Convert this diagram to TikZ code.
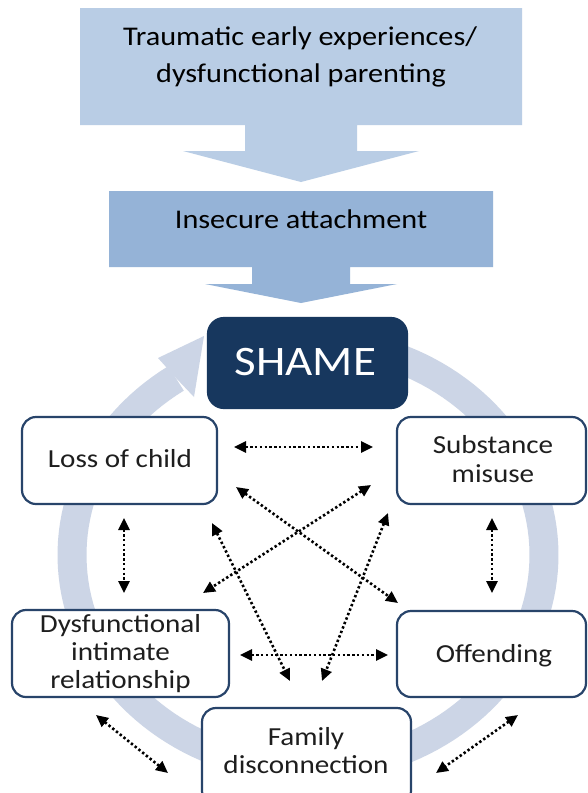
\documentclass[tikz,border=0pt]{standalone}
\usepackage{fontspec}
\setmainfont{Carlito}[FakeStretch=1.12]
\usetikzlibrary{arrows.meta}
\definecolor{topfill}{RGB}{185,205,229}
\definecolor{midfill}{RGB}{149,179,215}
\definecolor{ringcol}{RGB}{204,213,230}
\definecolor{navy}{RGB}{23,55,94}
\definecolor{boxline}{RGB}{40,68,106}
\definecolor{txt}{RGB}{30,30,30}
\begin{document}
\begin{tikzpicture}[x=1pt,y=-1pt,
  box/.style={draw=boxline, line width=2.2pt, fill=white, rounded corners=14pt, inner sep=0pt},
  boxtext/.style={anchor=base, inner sep=0pt, text=txt, font=\fontsize{26}{28.5}\selectfont},
  toptext/.style={anchor=base, inner sep=0pt, text=black, font=\fontsize{27}{37}\selectfont},
  link/.style={line width=2.6pt, dash pattern=on 2.4pt off 2.4pt,
    {Triangle[length=12pt,width=11pt]}-{Triangle[length=12pt,width=11pt]}},
]
\clip (0,0) rectangle (588,793);
\fill[white] (0,0) rectangle (588,793);

% background circular arrow
\draw[ringcol, line width=29pt, line join=round]
  plot[domain=-80:236, samples=140, variable=\t] ({308+236*cos(\t)},{555+213*sin(\t)});
\fill[ringcol] (158,358) -- (204,336) -- (194,397) -- (176,378) -- cycle;

% top block arrows
\fill[topfill] (80,8) -- (522,8) -- (522,125) -- (357,125) -- (357,151) -- (419,151)
  -- (301,182) -- (183,151) -- (245,151) -- (245,125) -- (80,125) -- cycle;
\fill[midfill] (109,191) -- (493,191) -- (493,267) -- (350,267) -- (350,284) -- (397,284)
  -- (301,303) -- (205,284) -- (252,284) -- (252,267) -- (109,267) -- cycle;
\node[toptext] (trauma1) at (300,45) {Traumatic early experiences/};
\node[toptext] (trauma2) at (301,82) {dysfunctional parenting};
\node[toptext] (insecure) at (301,228) {Insecure attachment};

% SHAME
\node[box, fill=navy, draw=navy, rounded corners=16pt, minimum width=199pt, minimum height=90pt] (shame) at (307.5,363) {};
\node[anchor=base, inner sep=0pt, text=white, font=\fontsize{42}{42}\selectfont] (shametext) at (305.5,375) {SHAME};

% boxes
\node[box, minimum width=195pt, minimum height=87pt] (loss) at (119.5,460.5) {};
\node[box, minimum width=189pt, minimum height=87pt] (subst) at (491.5,460.5) {};
\node[box, minimum width=217pt, minimum height=87pt] (dysf) at (120.5,653.5) {};
\node[box, minimum width=189pt, minimum height=86pt] (offend) at (491.5,654) {};
\node[box, minimum width=209pt, minimum height=97pt] (family) at (306.5,756.5) {};

\node[boxtext] (losst) at (120,467) {Loss of child};
\node[boxtext] (subst1) at (493,453) {Substance};
\node[boxtext] (subst2) at (493,482) {misuse};
\node[boxtext] (dysf1) at (120.5,632) {Dysfunctional};
\node[boxtext] (dysf2) at (120.5,660) {intimate};
\node[boxtext] (dysf3) at (120.5,688) {relationship};
\node[boxtext] (offendt) at (494,662) {Offending};
\node[boxtext] (family1) at (306,745) {Family};
\node[boxtext] (family2) at (306,773) {disconnection};

% connector ends
\coordinate (c1a) at (234,447);  \coordinate (c1b) at (373,447);
\coordinate (c2a) at (236,487);  \coordinate (c2b) at (398,603);
\coordinate (c3a) at (371,485);  \coordinate (c3b) at (203,593);
\coordinate (c4a) at (212,523);  \coordinate (c4b) at (290,681);
\coordinate (c5a) at (388,513);  \coordinate (c5b) at (322,681);
\coordinate (c6a) at (240,655);  \coordinate (c6b) at (388,655);
\coordinate (c7a) at (124,518);  \coordinate (c7b) at (124,593);
\coordinate (c8a) at (492,518);  \coordinate (c8b) at (492,593);
\coordinate (c9a) at (96,715);   \coordinate (c9b) at (168,773);
\coordinate (c10a) at (518,715); \coordinate (c10b) at (436,773);

\draw[link] (c1a) -- (c1b);
\draw[link] (c2a) -- (c2b);
\draw[link] (c3a) -- (c3b);
\draw[link] (c4a) -- (c4b);
\draw[link] (c5a) -- (c5b);
\draw[link] (c6a) -- (c6b);
\draw[link] (c7a) -- (c7b);
\draw[link] (c8a) -- (c8b);
\draw[link] (c9a) -- (c9b);
\draw[link] (c10a) -- (c10b);
\end{tikzpicture}
\end{document}
